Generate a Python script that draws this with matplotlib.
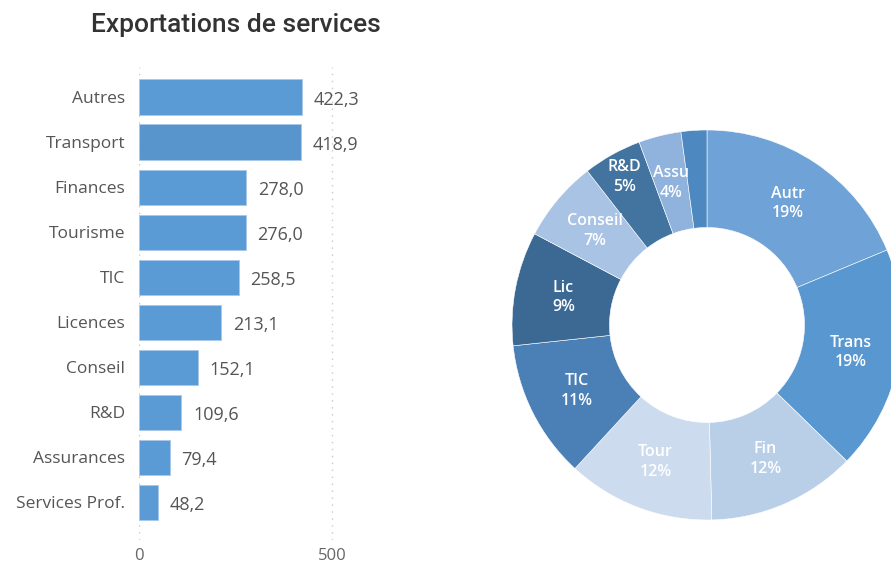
import matplotlib
matplotlib.use("Agg")
import matplotlib.pyplot as plt
import numpy as np

categories = ["Autres", "Transport", "Finances", "Tourisme", "TIC", "Licences",
              "Conseil", "R&D", "Assurances", "Services Prof."]
values = [422.3, 418.9, 278.0, 276.0, 258.5, 213.1, 152.1, 109.6, 79.4, 48.2]
value_labels = ["422,3", "418,9", "278,0", "276,0", "258,5", "213,1",
                "152,1", "109,6", "79,4", "48,2"]
short_labels = ["Autr", "Trans", "Fin", "Tour", "TIC", "Lic", "Conseil", "R&D", "Assu", ""]
x_ticks = [0, 500]
x_tick_labels = ["0", "500"]

bar_colors = ["#5b9bd5", "#5895cd", "#5b9bd5", "#5b9bd5", "#5b9bd5", "#5b9bd5",
              "#5b9bd5", "#5b9bd5", "#5b9bd5", "#5b9bd5"]
pie_colors = ["#6fa2d6", "#5897cf", "#b9cfe8", "#cddbee", "#4a80b5",
              "#3b6993", "#a8c3e4", "#42749f", "#8fb3dd", "#4e88c0"]

plt.rcParams['font.family'] = ['Open Sans', 'DejaVu Sans']

W, H = 891, 564
fig = plt.figure(figsize=(W / 100, H / 100), dpi=100)

# ---- bar chart ----
px0, px500 = 139, 332
xmax = 560
ax_left = px0
ax_right = px0 + (px500 - px0) * xmax / 500
ax_top, ax_bot = 67, 540
ax = fig.add_axes([ax_left / W, 1 - ax_bot / H, (ax_right - ax_left) / W, (ax_bot - ax_top) / H])
y = np.arange(len(categories))
ax.barh(y, values, height=0.78, color=bar_colors, edgecolor="#a9c9ec", linewidth=0.6, zorder=3)
ax.set_xlim(0, xmax)
ax.set_ylim(9.84, -0.667)
ax.set_yticks(y)
ax.set_yticklabels(categories, fontsize=12.5, color="#555555")
ax.set_xticks(x_ticks)
ax.set_xticklabels(x_tick_labels, fontsize=12, color="#666666")
ax.tick_params(axis="both", length=0)
ax.tick_params(axis="y", pad=10)
ax.tick_params(axis="x", pad=6)
for s in ax.spines.values():
    s.set_visible(False)
ax.grid(axis="x", linestyle=(0, (1, 4)), color="#c8c8c8", linewidth=1, zorder=0)
for yi, v, lab in zip(y, values, value_labels):
    ax.annotate(lab, (v, yi), xytext=(8.5, -2), textcoords="offset points",
                va="center", ha="left", fontsize=13, color="#555555")

fig.text(236 / W, 1 - 25 / H, "Exportations de services", ha="center", va="center",
         fontsize=19, color="#333333", fontweight="medium", family=["Roboto", "DejaVu Sans"])

# ---- donut ----
cx, cy, R = 707, 325, 195
half = 200
ax2 = fig.add_axes([(cx - half) / W, 1 - (cy + half) / H, 2 * half / W, 2 * half / H])
lim = half / R
wedges, _ = ax2.pie(values, colors=pie_colors, startangle=90, counterclock=False,
                    radius=1.0, wedgeprops=dict(width=0.5, edgecolor="white", linewidth=0.4))
ax2.set_xlim(-lim, lim)
ax2.set_ylim(-lim, lim)
ax2.set_aspect("equal")
ax2.axis("off")

total = sum(values)
dist = [0.75] * len(values)
dist[7] = 0.87
for w, v, lab, d in zip(wedges, values, short_labels, dist):
    if not lab:
        continue
    ang = np.deg2rad((w.theta1 + w.theta2) / 2)
    pct = round(100 * v / total)
    ax2.text(d * np.cos(ang), d * np.sin(ang), f"{lab}\n{pct}%", ha="center", va="center",
             fontsize=11.5, color="white", fontweight="semibold", linespacing=1.3)

fig.savefig("out.png", dpi=100)
